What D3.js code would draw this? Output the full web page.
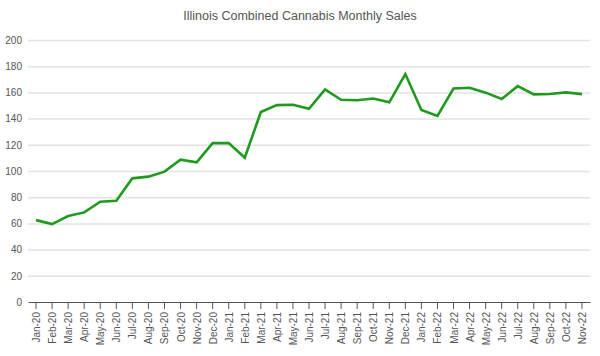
<!DOCTYPE html>
<html><head><meta charset="utf-8">
<script src="https://cdn.jsdelivr.net/npm/d3@7"></script>
<style>body{margin:0;background:#fff}svg{display:block;font-family:"Liberation Sans",Arial,sans-serif}</style>
</head><body><svg id="c" width="600" height="356"></svg>
<script>
const months = ["Jan-20","Feb-20","Mar-20","Apr-20","May-20","Jun-20","Jul-20","Aug-20","Sep-20","Oct-20","Nov-20","Dec-20",
"Jan-21","Feb-21","Mar-21","Apr-21","May-21","Jun-21","Jul-21","Aug-21","Sep-21","Oct-21","Nov-21","Dec-21",
"Jan-22","Feb-22","Mar-22","Apr-22","May-22","Jun-22","Jul-22","Aug-22","Sep-22","Oct-22","Nov-22"];
const sales = [62.5,59.5,65.6,68.4,76.6,77.3,94.4,95.7,99.5,108.7,106.7,121.3,
121.3,110.1,145,150.3,150.6,147.5,162.3,154.4,154,155.3,152.4,174,
146.5,142,163,163.5,159.8,155,164.8,158.5,158.8,160,158.7];
const yTicks = [0,20,40,60,80,100,120,140,160,180,200];
const title = "Illinois Combined Cannabis Monthly Sales";

const svg = d3.select("#c");
const m = {l:28, r:10, t:40, b:54};
const W = 600, H = 356;
const x = d3.scaleBand().domain(months).range([m.l, W - m.r]);
const y = d3.scaleLinear().domain([0,200]).range([H - m.b, m.t]);

svg.append("text").attr("x", 300).attr("y", 20).attr("text-anchor","middle")
  .attr("font-size", 12.5).attr("fill","#555").text(title);

const yAx = svg.append("g").attr("transform",`translate(${m.l},0)`)
  .call(d3.axisLeft(y).tickValues(yTicks).tickSize(-(W - m.r - m.l)).tickPadding(6));
yAx.select(".domain").remove();
yAx.selectAll(".tick line").attr("stroke","#e3e3e3").attr("stroke-width",1.5);
yAx.selectAll(".tick text").attr("font-size",10).attr("fill","#555").attr("font-family","Liberation Sans, Arial, sans-serif");
yAx.selectAll(".tick").filter(d=>d===0).select("line").attr("stroke","none");

const xAx = svg.append("g").attr("transform",`translate(0,${H - m.b})`)
  .call(d3.axisBottom(x).tickSizeInner(7).tickSizeOuter(0).tickPadding(4));
xAx.select(".domain").attr("stroke","#555");
xAx.selectAll(".tick line").attr("stroke","#555");
xAx.selectAll(".tick text").attr("font-size",10).attr("fill","#555").attr("font-family","Liberation Sans, Arial, sans-serif")
  .attr("transform","rotate(-90)").attr("text-anchor","end").attr("dx","-10").attr("dy","0.4em").attr("x",0).attr("y",0);

const line = d3.line().x((d,i)=>x(months[i]) + x.bandwidth()/2).y(d=>y(d));
svg.append("path").datum(sales).attr("d", line).attr("fill","none")
  .attr("stroke","#1e9a1e").attr("stroke-width",2.6).attr("stroke-linejoin","miter");
</script></body></html>
